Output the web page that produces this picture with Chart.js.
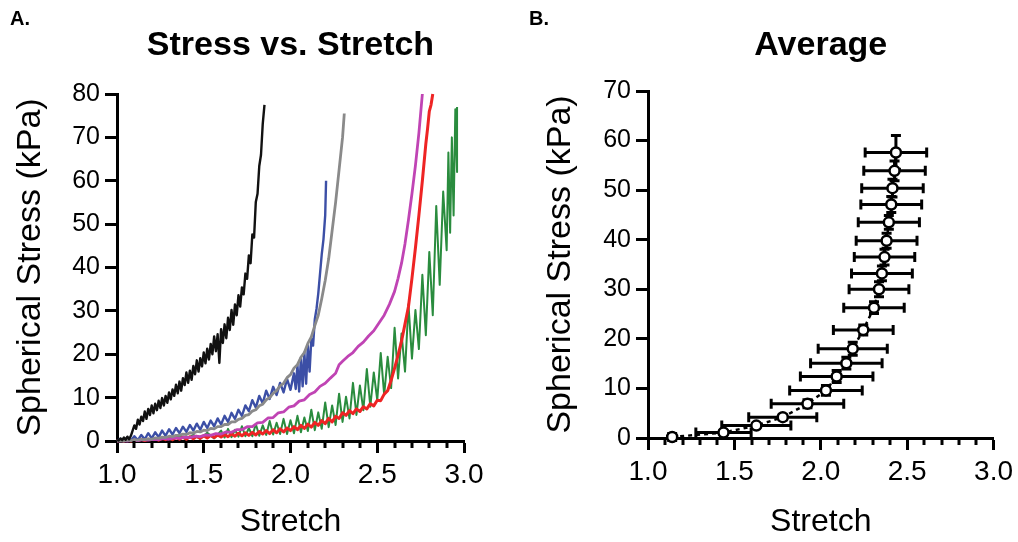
<!DOCTYPE html>
<html>
<head>
<meta charset="utf-8">
<script src="https://cdn.jsdelivr.net/npm/chart.js@4.4.1/dist/chart.umd.min.js"></script>
<style>
  html, body { margin: 0; padding: 0; background: #fff; }
  #wrap { position: relative; width: 1018px; height: 542px; }
  #chartA { position: absolute; left: 0; top: 0; }
  #chartB { position: absolute; left: 509px; top: 0; }
</style>
</head>
<body>
<div id="wrap">
  <canvas id="chartA" width="509" height="542"></canvas>
  <canvas id="chartB" width="509" height="542"></canvas>
</div>
<script>
/* globals Chart:false */

// Panel A: stress vs stretch, one [stretch, kPa] list per specimen
const blackCurve = [[1.00,0.3],[1.01,0.1],[1.02,0.6],[1.03,0.2],[1.04,0.8],[1.05,0.3],[1.06,1.0],[1.07,0.4],[1.08,1.2],[1.09,2.4],
  [1.10,3.6],[1.11,2.8],[1.12,4.9],[1.13,3.8],[1.14,5.6],[1.15,4.6],[1.16,6.8],[1.17,5.1],[1.18,7.4],[1.19,6.0],
  [1.20,8.2],[1.21,6.4],[1.22,8.6],[1.23,7.1],[1.24,9.3],[1.25,7.6],[1.26,9.9],[1.27,8.2],[1.28,10.4],[1.29,8.8],
  [1.30,11.2],[1.31,9.6],[1.32,11.9],[1.33,10.4],[1.34,13.0],[1.35,11.0],[1.36,13.7],[1.37,11.6],[1.38,14.5],[1.39,12.9],
  [1.40,15.8],[1.41,13.4],[1.42,16.2],[1.43,14.1],[1.44,17.3],[1.45,15.4],[1.46,18.6],[1.47,16.0],[1.48,19.1],[1.49,17.2],
  [1.50,20.4],[1.51,17.9],[1.52,21.3],[1.53,18.8],[1.54,22.4],[1.55,20.0],[1.56,24.1],[1.57,20.7],[1.58,24.6],[1.59,18.0],
  [1.60,25.8],[1.61,22.6],[1.62,26.9],[1.63,23.7],[1.64,28.4],[1.65,25.6],[1.66,30.2],[1.67,26.8],[1.68,31.5],[1.69,29.0],
  [1.70,33.6],[1.71,31.0],[1.72,35.4],[1.73,33.8],[1.74,38.6],[1.75,37.4],[1.76,42.8],[1.77,41.0],[1.78,47.6],[1.79,46.9],
  [1.80,55.1],[1.81,57.0],[1.82,63.4],[1.83,66.0],[1.84,73.1],[1.85,77.5]];

const grayCurve = [[1.00,0.0],[1.02,0.1],[1.04,0.0],[1.06,0.2],[1.08,0.1],[1.10,0.3],[1.12,0.2],[1.14,0.4],[1.16,0.3],[1.18,0.5],
  [1.20,0.4],[1.22,0.7],[1.24,0.6],[1.26,0.9],[1.28,0.8],[1.30,1.1],[1.32,1.0],[1.34,1.3],[1.36,1.3],[1.38,1.6],
  [1.40,1.5],[1.42,1.9],[1.44,1.8],[1.46,2.2],[1.48,2.1],[1.50,2.5],[1.52,2.4],[1.54,2.9],[1.56,2.8],[1.58,3.3],
  [1.60,3.3],[1.62,3.8],[1.64,3.8],[1.66,4.4],[1.68,4.4],[1.70,5.0],[1.72,5.2],[1.74,5.9],[1.76,6.1],[1.78,6.9],
  [1.80,7.2],[1.82,8.1],[1.84,8.5],[1.86,9.5],[1.88,10.0],[1.90,11.0],[1.92,11.6],[1.94,12.7],[1.96,13.3],[1.98,14.6],
  [2.00,15.3],[2.02,16.8],[2.04,17.6],[2.06,19.3],[2.08,20.4],[2.10,22.5],[2.12,24.0],[2.14,26.6],[2.16,29.0],[2.18,32.8],
  [2.20,37.0],[2.22,42.0],[2.24,48.5],[2.26,55.0],[2.28,62.5],[2.30,70.0],[2.31,75.5]];

const blueCurve = [[1.00,0.0],[1.02,0.5],[1.04,0.0],[1.06,0.8],[1.08,0.1],[1.10,1.1],[1.12,0.2],[1.14,1.4],[1.16,0.4],[1.18,1.8],
  [1.20,0.6],[1.22,2.0],[1.24,0.9],[1.26,2.4],[1.28,1.2],[1.30,2.7],[1.32,1.5],[1.34,3.0],[1.36,1.8],[1.38,3.3],
  [1.40,2.1],[1.42,3.7],[1.44,2.4],[1.46,4.0],[1.48,2.6],[1.50,4.4],[1.52,3.0],[1.54,4.7],[1.56,3.4],[1.58,5.2],
  [1.60,3.8],[1.62,5.8],[1.64,4.4],[1.66,6.5],[1.68,5.1],[1.70,7.2],[1.72,5.8],[1.74,8.2],[1.76,6.9],[1.78,9.4],
  [1.80,7.7],[1.82,10.4],[1.84,8.7],[1.86,11.6],[1.88,9.7],[1.90,12.5],[1.92,10.6],[1.94,13.4],[1.96,11.2],[1.98,14.3],
  [2.00,11.8],[2.02,15.6],[2.03,12.0],[2.04,17.5],[2.05,11.4],[2.06,19.2],[2.07,12.6],[2.08,20.4],[2.09,13.2],[2.10,22.0],
  [2.11,16.0],[2.12,23.5],[2.13,22.0],[2.14,28.0],[2.15,30.5],[2.16,34.0],[2.17,38.5],[2.18,43.0],[2.19,46.5],[2.20,52.0],
  [2.205,60.0]];

const magentaCurve = [[1.00,0.0],[1.03,0.1],[1.06,0.0],[1.09,0.2],[1.12,0.1],[1.15,0.3],[1.18,0.2],[1.21,0.4],[1.24,0.3],[1.27,0.6],
  [1.30,0.4],[1.33,0.7],[1.36,0.6],[1.39,0.9],[1.42,0.8],[1.45,1.1],[1.48,1.0],[1.51,1.4],[1.54,1.3],[1.57,1.7],
  [1.60,1.6],[1.63,2.1],[1.66,2.0],[1.69,2.6],[1.72,2.6],[1.75,3.3],[1.78,3.3],[1.81,4.2],[1.84,4.3],[1.87,5.3],
  [1.90,5.4],[1.93,6.5],[1.96,6.7],[1.99,7.8],[2.02,8.1],[2.05,9.2],[2.08,9.5],[2.11,10.7],[2.14,11.3],[2.17,12.6],
  [2.20,13.3],[2.23,14.5],[2.26,15.6],[2.28,17.6],[2.30,18.4],[2.33,19.5],[2.36,20.4],[2.39,21.8],[2.42,22.8],[2.45,24.2],
  [2.48,25.4],[2.51,27.2],[2.54,29.0],[2.57,31.5],[2.60,34.5],[2.62,37.5],[2.64,41.0],[2.66,45.5],[2.68,51.0],[2.70,57.0],
  [2.72,63.5],[2.74,71.0],[2.76,80.0]];

const redCurve = [[1.00,0.0],[1.02,0.2],[1.04,0.0],[1.06,0.3],[1.08,0.0],[1.10,0.3],[1.12,0.1],[1.14,0.4],[1.16,0.1],[1.18,0.4],
  [1.20,0.2],[1.22,0.5],[1.24,0.2],[1.26,0.6],[1.28,0.3],[1.30,0.7],[1.32,0.3],[1.34,0.8],[1.36,0.4],[1.38,0.9],
  [1.40,0.4],[1.42,1.0],[1.44,0.5],[1.46,1.1],[1.48,0.6],[1.50,1.2],[1.52,0.7],[1.54,1.3],[1.56,0.8],[1.58,1.4],
  [1.60,0.9],[1.62,1.5],[1.64,1.0],[1.66,1.6],[1.68,1.1],[1.70,1.8],[1.72,1.2],[1.74,1.9],[1.76,1.3],[1.78,2.0],
  [1.80,1.4],[1.82,2.2],[1.84,1.6],[1.86,2.4],[1.88,1.7],[1.90,2.6],[1.92,1.9],[1.94,2.8],[1.96,2.1],[1.98,3.0],
  [2.00,2.4],[2.02,3.3],[2.04,2.6],[2.06,3.6],[2.08,2.9],[2.10,3.9],[2.12,3.2],[2.14,4.3],[2.16,3.6],[2.18,4.7],
  [2.20,4.0],[2.22,5.2],[2.24,4.4],[2.26,5.7],[2.28,5.2],[2.30,6.5],[2.32,5.9],[2.34,7.0],[2.36,6.3],[2.38,7.4],
  [2.40,6.8],[2.42,7.9],[2.44,7.4],[2.46,8.6],[2.48,8.1],[2.50,9.4],[2.52,9.3],[2.54,10.8],[2.56,11.6],[2.58,14.0],
  [2.60,16.8],[2.62,19.8],[2.64,23.0],[2.66,27.0],[2.68,31.0],[2.70,37.5],[2.72,44.5],[2.74,52.0],[2.76,60.0],[2.78,68.5],
  [2.79,72.0],[2.80,76.0],[2.81,77.5],[2.82,80.0]];

const greenCurve = [[1.00,0.0],[1.04,0.3],[1.08,0.0],[1.12,0.4],[1.16,0.1],[1.20,0.6],[1.24,0.2],[1.28,0.8],[1.32,0.3],[1.36,1.1],
  [1.40,0.4],[1.44,1.4],[1.48,0.5],[1.52,1.9],[1.56,0.6],[1.60,2.4],[1.62,0.8],[1.64,2.8],[1.66,0.9],[1.68,2.6],
  [1.70,1.0],[1.72,3.4],[1.74,1.1],[1.76,3.0],[1.78,1.1],[1.80,3.9],[1.82,1.2],[1.84,3.6],[1.86,1.4],[1.88,4.6],
  [1.90,1.5],[1.92,4.2],[1.94,1.6],[1.96,5.1],[1.98,1.6],[2.00,4.8],[2.02,1.8],[2.04,5.8],[2.06,2.0],[2.08,5.4],
  [2.10,2.3],[2.12,7.2],[2.14,2.5],[2.16,6.6],[2.18,2.8],[2.20,8.9],[2.22,3.2],[2.24,8.2],[2.26,3.7],[2.28,10.9],
  [2.30,4.4],[2.32,10.2],[2.34,5.2],[2.36,13.4],[2.38,6.0],[2.40,12.8],[2.42,7.1],[2.44,16.6],[2.46,7.9],[2.48,15.8],
  [2.50,9.4],[2.52,20.3],[2.54,10.6],[2.56,19.4],[2.58,12.2],[2.60,26.1],[2.62,14.4],[2.64,24.8],[2.66,16.0],[2.68,31.5],
  [2.70,19.0],[2.72,30.2],[2.74,21.2],[2.76,38.3],[2.78,24.4],[2.80,43.6],[2.82,29.0],[2.84,54.2],[2.86,36.0],[2.88,57.5],
  [2.90,44.0],[2.91,66.5],[2.92,48.0],[2.93,70.0],[2.94,52.0],[2.95,76.5],[2.96,62.0],[2.96,77.0]];

// Panel B: averaged curve with SD in both directions
const avgStretch = [1.14, 1.437, 1.627, 1.78, 1.923, 2.03, 2.092, 2.148, 2.185, 2.246, 2.308, 2.337, 2.354, 2.369, 2.381, 2.394, 2.408, 2.415, 2.427, 2.435];
const avgStress  = [0.2, 1.1, 2.5, 4.2, 6.9, 9.6, 12.4, 15.1, 18.0, 21.8, 26.3, 30.0, 33.2, 36.5, 39.8, 43.5, 47.1, 50.4, 53.9, 57.6];
const sdStretch  = [0.02, 0.16, 0.20, 0.197, 0.21, 0.21, 0.21, 0.207, 0.20, 0.173, 0.175, 0.173, 0.176, 0.175, 0.176, 0.177, 0.176, 0.178, 0.178, 0.178];
const sdStress   = [0.3, 0.4, 0.4, 0.5, 0.8, 1.0, 1.2, 1.2, 1.3, 1.0, 1.2, 1.5, 1.5, 1.6, 1.5, 1.4, 1.6, 1.8, 2.0, 3.4];

const stretchTicks = [1.0, 1.5, 2.0, 2.5, 3.0];
const stretchMinor = [1.1, 1.2, 1.3, 1.4, 1.6, 1.7, 1.8, 1.9, 2.1, 2.2, 2.3, 2.4, 2.6, 2.7, 2.8, 2.9];

const FONT = '"Liberation Sans", Arial, Helvetica, sans-serif';

function toXY(list) {
  return list.map(function (p) { return { x: p[0], y: p[1] } });
}

// panel letter + bold title above the plot area
const panelText = {
  id: 'panelText',
  afterDraw: function (chart, args, opts) {
    const ctx = chart.ctx;
    const area = chart.chartArea;
    ctx.save();
    ctx.fillStyle = '#000';
    ctx.textBaseline = 'alphabetic';
    ctx.font = 'bold 20px ' + FONT;
    ctx.textAlign = 'left';
    ctx.fillText(opts.letter, opts.letterX, 25);
    ctx.font = 'bold 34px ' + FONT;
    ctx.textAlign = 'center';
    ctx.fillText(opts.title, (area.left + area.right) / 2, 55);
    ctx.restore();
  }
};

// short minor ticks between the labelled stretch values
const minorTicks = {
  id: 'minorTicks',
  afterDraw: function (chart) {
    const xs = chart.scales.x;
    const ctx = chart.ctx;
    const y0 = chart.chartArea.bottom;
    ctx.save();
    ctx.strokeStyle = '#000';
    ctx.lineWidth = 3;
    stretchMinor.forEach(function (v) {
      const px = Math.round(xs.getPixelForValue(v));
      ctx.beginPath();
      ctx.moveTo(px, y0);
      ctx.lineTo(px, y0 + 7);
      ctx.stroke();
    });
    ctx.restore();
  }
};

// error bars (x and y) for the average curve
const errorBars = {
  id: 'errorBars',
  beforeDatasetsDraw: function (chart) {
    const xs = chart.scales.x;
    const ys = chart.scales.y;
    const ctx = chart.ctx;
    ctx.save();
    ctx.strokeStyle = '#000';
    ctx.lineWidth = 3;
    avgStretch.forEach(function (sx, i) {
      const cy = ys.getPixelForValue(avgStress[i]);
      const cx = xs.getPixelForValue(sx);
      const x1 = xs.getPixelForValue(sx - sdStretch[i]);
      const x2 = xs.getPixelForValue(sx + sdStretch[i]);
      const y1 = ys.getPixelForValue(avgStress[i] - sdStress[i]);
      const y2 = ys.getPixelForValue(avgStress[i] + sdStress[i]);
      ctx.beginPath();
      ctx.moveTo(x1, cy); ctx.lineTo(x2, cy);
      ctx.moveTo(x1, cy - 5); ctx.lineTo(x1, cy + 5);
      ctx.moveTo(x2, cy - 5); ctx.lineTo(x2, cy + 5);
      ctx.moveTo(cx, y1); ctx.lineTo(cx, y2);
      ctx.moveTo(cx - 5, y2); ctx.lineTo(cx + 5, y2);
      ctx.moveTo(cx - 5, y1); ctx.lineTo(cx + 5, y1);
      ctx.stroke();
    });
    ctx.restore();
  }
};

function axes(yMax, yWidth, yTitlePad, xHeight) {
  return {
    x: {
      type: 'linear',
      min: 1,
      max: 3,
      afterBuildTicks: function (scale) {
        scale.ticks = stretchTicks.map(function (v) { return { value: v } });
      },
      afterFit: function (scale) { scale.height = xHeight },
      border: { color: '#000', width: 3 },
      grid: { drawOnChartArea: false, color: '#000', tickColor: '#000', tickLength: 12, tickWidth: 3 },
      ticks: {
        color: '#000',
        padding: 5,
        maxRotation: 0,
        font: { family: FONT, size: 28 },
        callback: function (v) { return Number(v).toFixed(1) }
      },
      title: {
        display: true,
        text: 'Stretch',
        color: '#000',
        font: { family: FONT, size: 32 },
        padding: { top: 0, bottom: 1 }
      }
    },
    y: {
      min: 0,
      max: yMax,
      afterFit: function (scale) { scale.width = yWidth },
      border: { color: '#000', width: 3 },
      grid: { drawOnChartArea: false, color: '#000', tickColor: '#000', tickLength: 12, tickWidth: 3 },
      ticks: {
        stepSize: 10,
        color: '#000',
        padding: 5,
        font: { family: FONT, size: 25 }
      },
      title: {
        display: true,
        text: 'Spherical Stress (kPa)',
        color: '#000',
        font: { family: FONT, size: 34 },
        padding: { top: yTitlePad, bottom: 0 }
      }
    }
  };
}

function curve(list, color, width) {
  return {
    data: toXY(list),
    borderColor: color,
    borderWidth: width,
    borderJoinStyle: 'round',
    pointRadius: 0,
    tension: 0,
    clip: 4
  };
}

new Chart(document.getElementById('chartA'), {
  type: 'line',
  data: {
    datasets: [
      curve(blackCurve, '#111111', 2.4),
      curve(grayCurve, '#8a8a8a', 2.8),
      curve(blueCurve, '#3c4fa6', 2.4),
      curve(magentaCurve, '#c044b4', 2.8),
      curve(redCurve, '#ee2424', 3),
      curve(greenCurve, '#2a8c3e', 2)
    ]
  },
  options: {
    responsive: false,
    animation: false,
    layout: { padding: { top: 94, right: 45, left: 0, bottom: 0 } },
    plugins: {
      legend: { display: false },
      tooltip: { enabled: false },
      panelText: { letter: 'A.', letterX: 10, title: 'Stress vs. Stretch' }
    },
    scales: axes(80, 117, 10, 101)
  },
  plugins: [panelText, minorTicks]
});

new Chart(document.getElementById('chartB'), {
  type: 'line',
  data: {
    datasets: [{
      data: avgStretch.map(function (x, i) { return { x: x, y: avgStress[i] } }),
      borderColor: '#000',
      borderWidth: 2.5,
      borderDash: [4, 4],
      tension: 0,
      pointRadius: 5,
      pointBorderWidth: 2.5,
      pointBorderColor: '#000',
      pointBackgroundColor: '#fff',
      clip: 10
    }]
  },
  options: {
    responsive: false,
    animation: false,
    layout: { padding: { top: 91, right: 23, left: 0, bottom: 0 } },
    plugins: {
      legend: { display: false },
      tooltip: { enabled: false },
      panelText: { letter: 'B.', letterX: 20, title: 'Average' }
    },
    scales: axes(70, 139, 31, 104)
  },
  plugins: [panelText, minorTicks, errorBars]
});
</script>
</body>
</html>
